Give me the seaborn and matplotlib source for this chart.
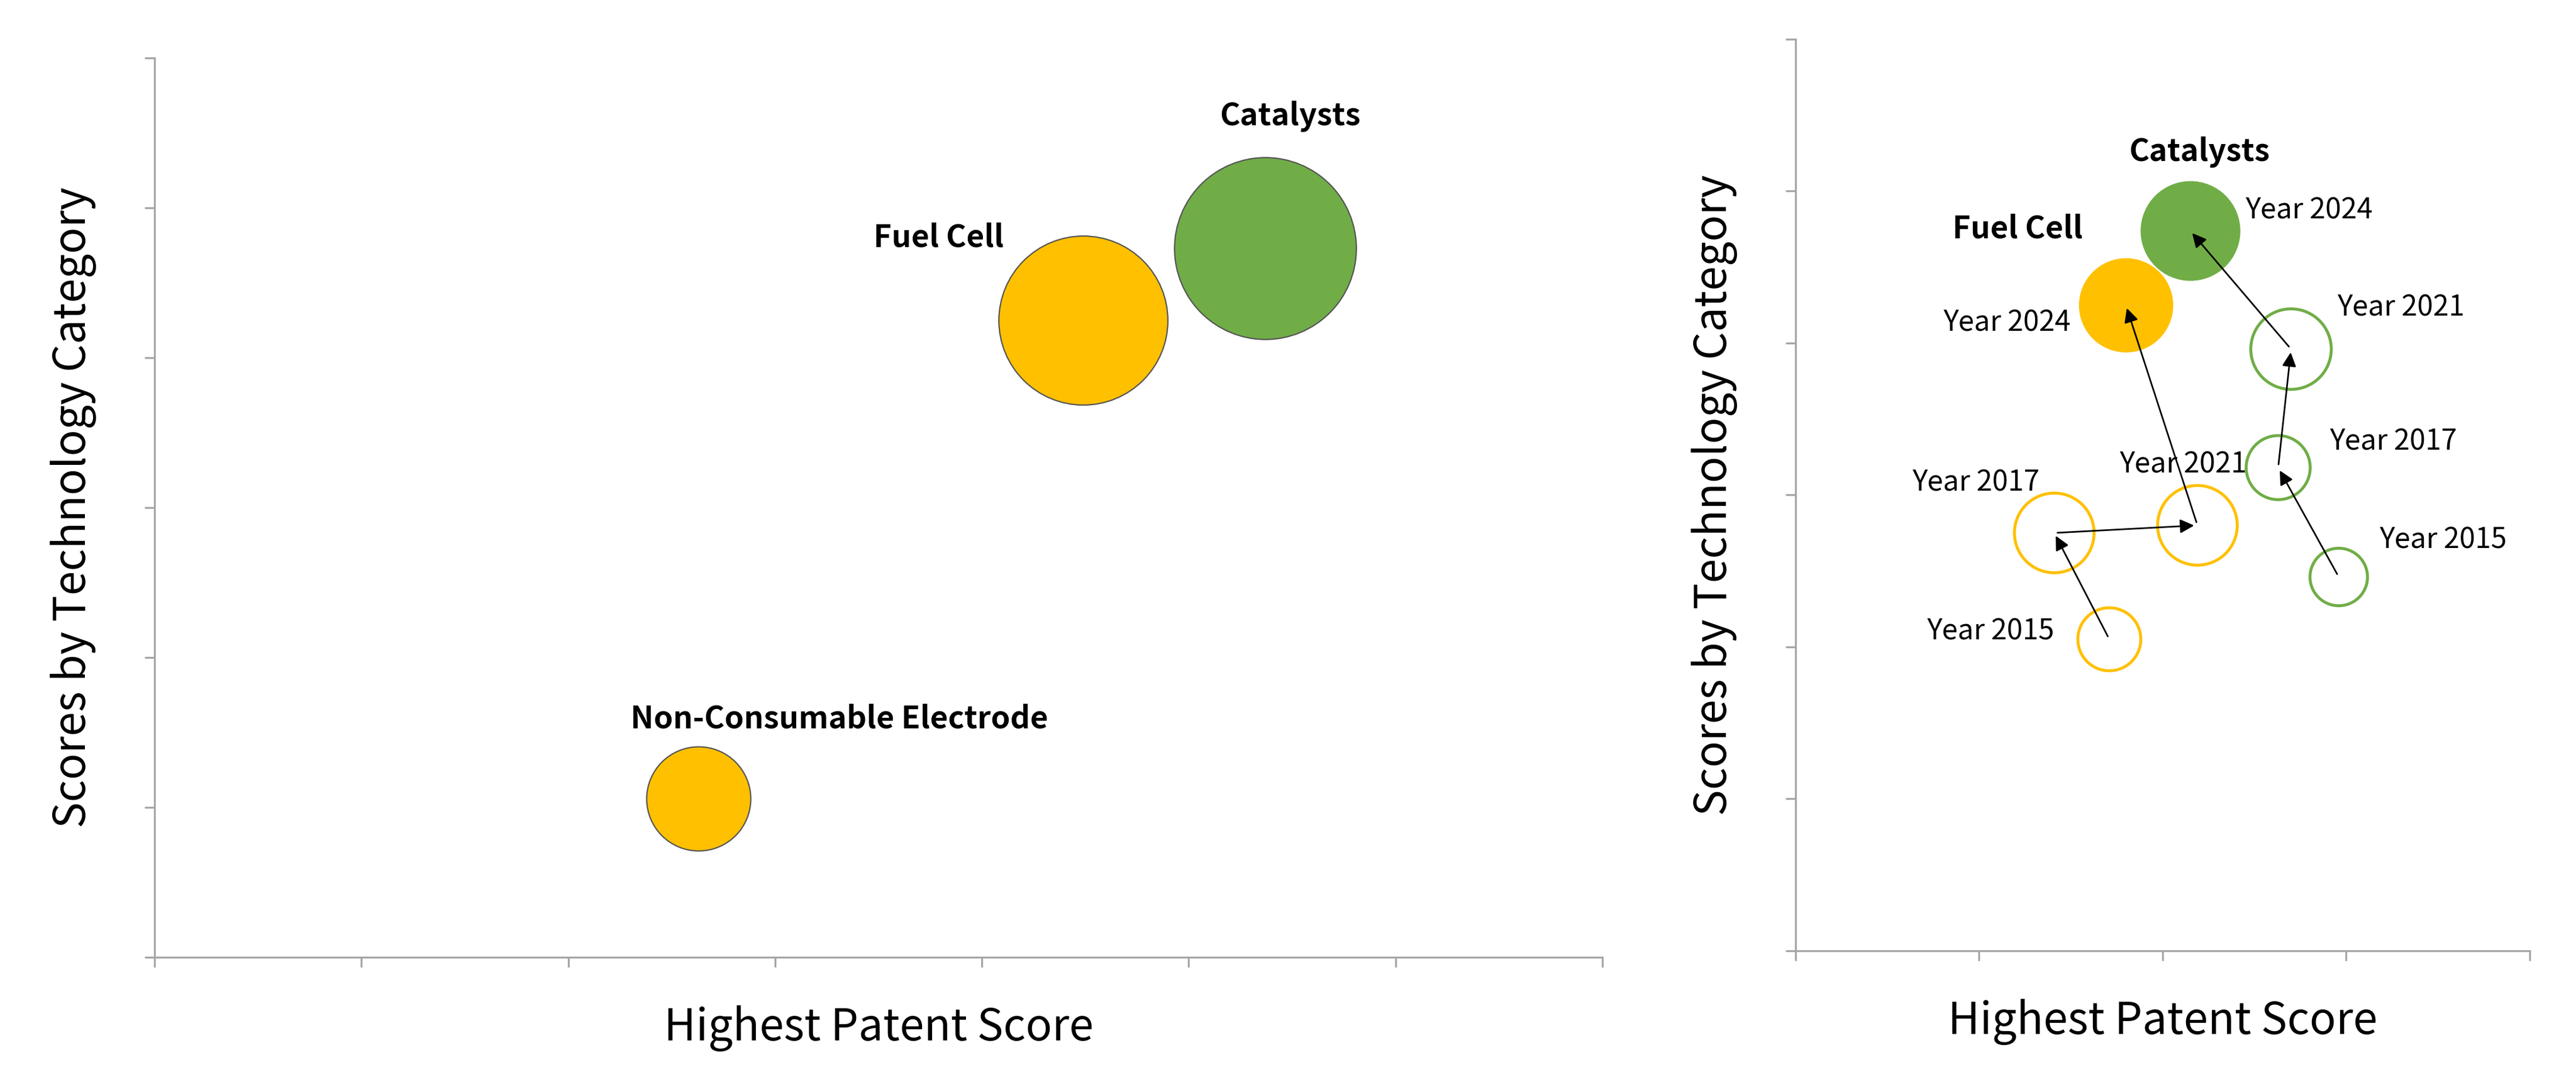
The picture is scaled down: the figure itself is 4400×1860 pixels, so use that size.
import matplotlib
matplotlib.use("Agg")
import matplotlib.pyplot as plt
import seaborn as sns
import pandas as pd

# Left panel data
left_names = ["Non-Consumable Electrode", "Fuel Cell", "Catalysts"]
left_x = [2.63, 4.49, 5.37]
left_y = [1.06, 4.25, 4.73]
left_size = [4100, 10800, 12500]
left_color = ["#FFC000", "#FFC000", "#70AD47"]

# Right panel data
years = ["Year 2015", "Year 2017", "Year 2021", "Year 2024"]
fc_x = [1.71, 1.41, 2.19, 1.80]
fc_y = [2.05, 2.75, 2.80, 4.25]
fc_size = [1500, 2400, 2400, 3300]
cat_x = [2.96, 2.63, 2.70, 2.15]
cat_y = [2.46, 3.18, 3.96, 4.74]
cat_size = [1250, 1550, 2450, 3700]

FONT = "Noto Sans CJK JP"
GRAY = "#A6A6A6"

fig = plt.figure(figsize=(22, 9.3), dpi=200)
ax1 = fig.add_axes([0.060, 0.121, 0.562, 0.826])
ax2 = fig.add_axes([0.697, 0.127, 0.285, 0.837])

def style(ax, xmax, ymax):
    ax.set_xlim(0, xmax)
    ax.set_ylim(0, ymax)
    ax.set_xticks(range(xmax + 1))
    ax.set_yticks(range(ymax + 1))
    ax.set_xticklabels([])
    ax.set_yticklabels([])
    for s in ["top", "right"]:
        ax.spines[s].set_visible(False)
    for s in ["left", "bottom"]:
        ax.spines[s].set_color(GRAY)
        ax.spines[s].set_linewidth(1.2)
    ax.tick_params(direction="out", length=6, color=GRAY, width=1.2)
    ax.set_xlabel("Highest Patent Score", fontsize=27, family=FONT, labelpad=20)
    ax.set_ylabel("Scores by Technology Category", fontsize=27, family=FONT, labelpad=26)

# Left panel
for n, x, y, s, c in zip(left_names, left_x, left_y, left_size, left_color):
    sns.scatterplot(x=[x], y=[y], s=s, color=c, edgecolor="#555555", linewidth=0.8, ax=ax1, zorder=3)
label_off = {"Non-Consumable Electrode": (0.68, 0.53, "center"),
             "Fuel Cell": (-0.70, 0.55, "center"),
             "Catalysts": (0.12, 0.88, "center")}
for n, x, y in zip(left_names, left_x, left_y):
    dx, dy, ha = label_off[n]
    ax1.text(x + dx, y + dy, n, fontsize=19, fontweight="bold", family=FONT, ha=ha, va="center")
style(ax1, 7, 6)

# Right panel
for xs, ys, ss, c in [(fc_x, fc_y, fc_size, "#FFC000"), (cat_x, cat_y, cat_size, "#70AD47")]:
    for i in range(4):
        if i < 3:
            sns.scatterplot(x=[xs[i]], y=[ys[i]], s=ss[i], facecolor="none", edgecolor=c, linewidth=1.8, ax=ax2, zorder=3)
        else:
            sns.scatterplot(x=[xs[i]], y=[ys[i]], s=ss[i], color=c, edgecolor=c, linewidth=0.5, ax=ax2, zorder=3)
    for i in range(3):
        ax2.annotate("", xy=(xs[i + 1], ys[i + 1]), xytext=(xs[i], ys[i]),
                     arrowprops=dict(arrowstyle="-|>", color="black", lw=1.0, mutation_scale=18), zorder=4)

fc_lab = [(-0.30, 0.05, "right"), (-0.08, 0.33, "right"), (0.27, 0.40, "right"), (-0.30, -0.12, "right")]
cat_lab = [(0.22, 0.24, "left"), (0.28, 0.17, "left"), (0.25, 0.27, "left"), (0.30, 0.13, "left")]
for xs, ys, labs in [(fc_x, fc_y, fc_lab), (cat_x, cat_y, cat_lab)]:
    for i, (dx, dy, ha) in enumerate(labs):
        ax2.text(xs[i] + dx, ys[i] + dy, years[i], fontsize=17.5, family=FONT, ha=ha, va="center")
ax2.text(2.2, 5.26, "Catalysts", fontsize=19, fontweight="bold", family=FONT, ha="center", va="center")
ax2.text(1.21, 4.75, "Fuel Cell", fontsize=19, fontweight="bold", family=FONT, ha="center", va="center")
style(ax2, 4, 6)

fig.savefig("out.png", dpi=200, facecolor="white")
